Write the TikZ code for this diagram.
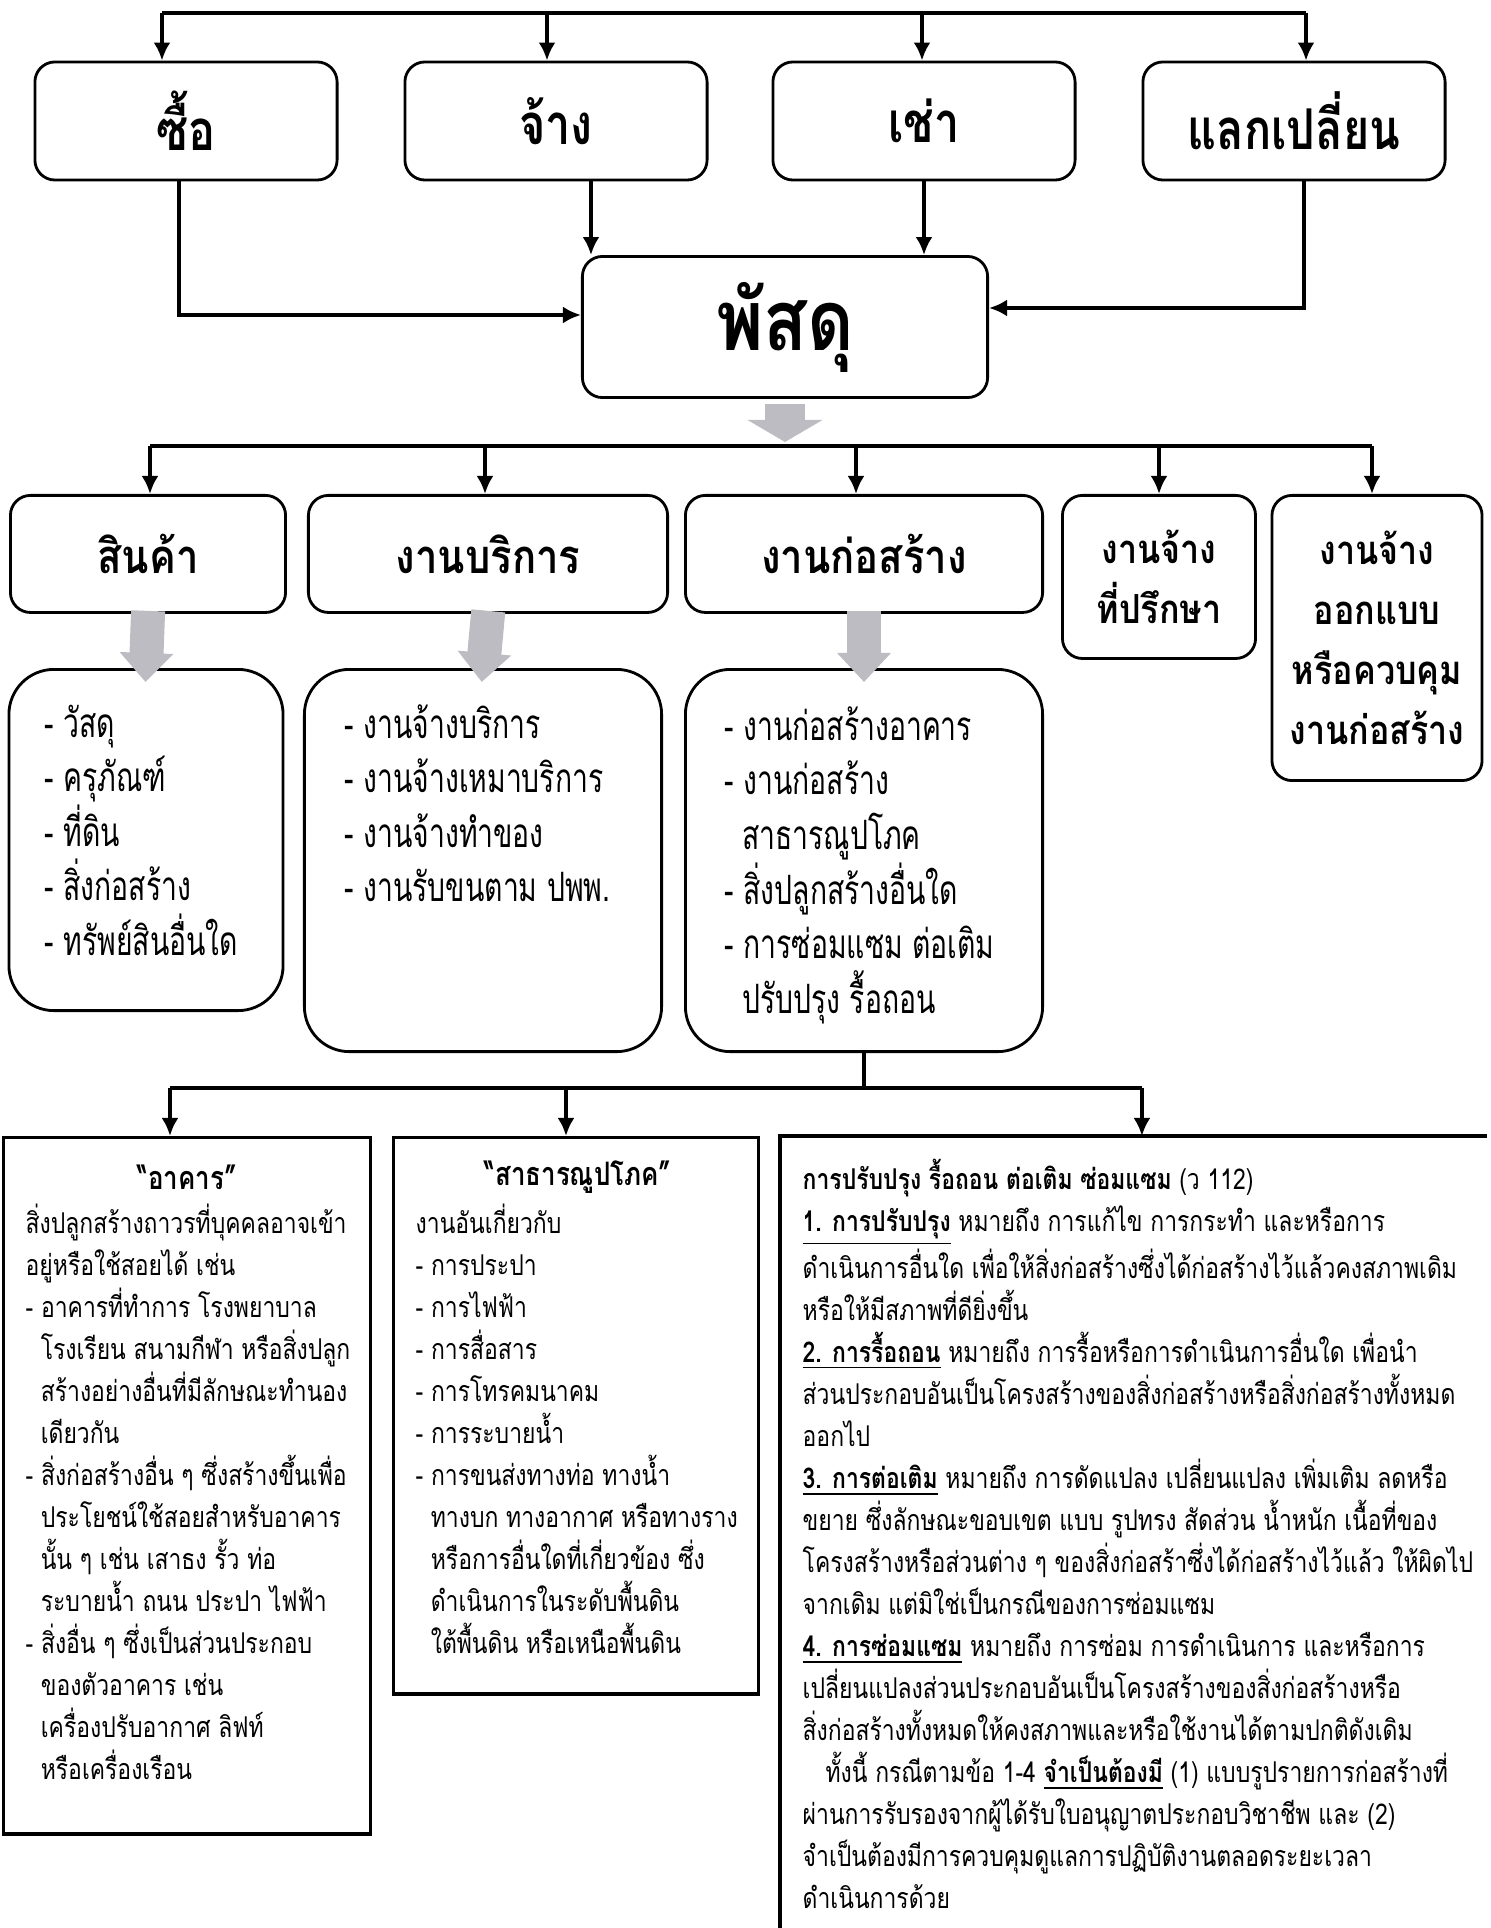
\documentclass[tikz,border=0pt]{standalone}
\usepackage{fontspec}
\usepackage{tikz}
\usetikzlibrary{arrows.meta}
\newfontfamily\thaihead[Script=Thai,FakeStretch=0.85]{Loma}
\newfontfamily\thaitext[Script=Thai,FakeStretch=0.8]{Loma}
\newfontfamily\thainarrow[Script=Thai,FakeStretch=0.7]{Loma}
\definecolor{fatgray}{RGB}{188,188,194}
\newcommand{\ind}{\hspace*{4.3pt}}
\newcommand{\ulb}[1]{\underline{\textbf{#1}}}

\begin{document}
\begin{tikzpicture}[x=0.01cm,y=-0.01cm,
    every node/.style={font=\thaitext},
    headbox/.style={draw,line width=0.8pt,rounded corners=0.2cm,align=center,inner sep=0pt},
    itembox/.style={draw,line width=0.8pt,rounded corners=0.45cm,inner sep=0pt},
    flatbox/.style={draw,line width=0.9pt,inner sep=0pt},
    bigfont/.style={font=\thaitext\bfseries\fontsize{16}{20}\selectfont},
    midfont/.style={font=\thaihead\bfseries\fontsize{13.4}{17}\selectfont},
    smallfont/.style={font=\thaihead\bfseries\fontsize{11.4}{17}\selectfont},
    bus/.style={line width=1.3pt},
    arr/.style={line width=1.3pt,-{Latex[length=1.8mm,width=1.7mm]}},
    fatarr/.style={fatgray,line width=0.34cm,-{Triangle[length=0.29cm,width=0.52cm]}},
    widearr/.style={fatgray,line width=0.40cm,-{Triangle[length=0.22cm,width=0.74cm]}},
    listtext/.style={anchor=north west,align=left,inner sep=0pt,font=\thainarrow\fontsize{11.5}{15.5}\selectfont},
    bodytext/.style={anchor=north west,align=left,inner sep=0pt,font=\thaitext\fontsize{8.15}{11.95}\selectfont},
    boxtitle/.style={font=\thaitext\bfseries\fontsize{9.2}{12}\selectfont}]
  \useasboundingbox (0,0) rectangle (1490,1928);

  \node[headbox,bigfont,minimum width=3.02cm,minimum height=1.18cm] (buy) at (186,121) {ซื้อ};
  \node[headbox,bigfont,minimum width=3.02cm,minimum height=1.18cm] (hire) at (556,121) {จ้าง};
  \node[headbox,bigfont,minimum width=3.02cm,minimum height=1.18cm] (rent) at (924,121) {เช่า};
  \node[headbox,bigfont,minimum width=3.02cm,minimum height=1.18cm] (swap) at (1294,121) {แลกเปลี่ยน};
  \node[headbox,font=\thaihead\bfseries\fontsize{24}{28}\selectfont,minimum width=4.05cm,minimum height=1.41cm] (pasadu) at (785,327) {พัสดุ};

  \coordinate (bus1) at (0,13);
  \foreach \n/\s in {buy/-0.24,hire/-0.09,rent/-0.02,swap/0.12}
    \coordinate (in\n) at ([xshift=\s cm]\n.north);
  \draw[bus] (inbuy |- bus1) -- (inswap |- bus1);
  \foreach \n in {buy,hire,rent,swap}
    \draw[arr] (in\n |- bus1) -- (in\n);
  \coordinate (outbuy) at ([xshift=-0.07cm]buy.south);
  \coordinate (outswap) at ([xshift=0.1cm]swap.south);
  \coordinate (hiredrop) at ([xshift=0.1cm]pasadu.north west);
  \coordinate (buyin) at ([yshift=0.12cm]pasadu.west);
  \coordinate (swapin) at ([yshift=0.19cm]pasadu.east);
  \draw[arr] (outbuy) |- (buyin);
  \draw[arr] (hiredrop |- hire.south) -- (hiredrop);
  \draw[arr] (rent.south) -- (rent.south |- pasadu.north);
  \draw[arr] (outswap) |- (swapin);

  \node[headbox,midfont,anchor=north,minimum width=2.75cm,minimum height=1.17cm] (goods) at (148,494) {สินค้า};
  \node[headbox,midfont,anchor=north,minimum width=3.59cm,minimum height=1.17cm] (service) at (488,494) {งานบริการ};
  \node[headbox,midfont,anchor=north,minimum width=3.57cm,minimum height=1.17cm] (build) at (864,494) {งานก่อสร้าง};
  \node[headbox,smallfont,anchor=north,minimum width=1.93cm,minimum height=1.63cm] (consult) at (1159,494) {งานจ้าง\\ที่ปรึกษา};
  \node[headbox,smallfont,anchor=north,minimum width=2.10cm,minimum height=2.85cm] (design) at (1377,494) {งานจ้าง\\ออกแบบ\\หรือควบคุม\\งานก่อสร้าง};

  \coordinate (bus2) at (0,446);
  \draw[widearr,shorten <=0.05cm,shorten >=0.04cm] (pasadu.south) -- (pasadu.south |- bus2);
  \foreach \n/\s in {goods/0.02,service/-0.03,build/-0.08,consult/0,design/-0.05}
    \coordinate (in\n) at ([xshift=\s cm]\n.north);
  \draw[bus] (ingoods |- bus2) -- (indesign |- bus2);
  \foreach \n in {goods,service,build,consult,design}
    \draw[arr] (in\n |- bus2) -- (in\n);

  \node[itembox,anchor=north,minimum width=2.74cm,minimum height=3.41cm] (goodsbox) at (146,668) {};
  \node[itembox,anchor=north,minimum width=3.57cm,minimum height=3.82cm] (servicebox) at (483,668) {};
  \node[itembox,anchor=north,minimum width=3.57cm,minimum height=3.82cm] (buildbox) at (864,668) {};
  \foreach \a/\b in {goods/goodsbox,service/servicebox,build/buildbox}
    \draw[fatarr,shorten <=-0.03cm,shorten >=-0.14cm] (\a.south) -- (\b.north);

  \node[listtext] (goodslist) at (44,704) {- วัสดุ\\- ครุภัณฑ์\\- ที่ดิน\\- สิ่งก่อสร้าง\\- ทรัพย์สินอื่นใด};
  \node[listtext] (servicelist) at (344,704) {- งานจ้างบริการ\\- งานจ้างเหมาบริการ\\- งานจ้างทำของ\\- งานรับขนตาม ปพพ.};
  \node[listtext] (buildlist) at (724,706) {- งานก่อสร้างอาคาร\\- งานก่อสร้าง\\\hspace*{5pt}สาธารณูปโภค\\- สิ่งปลูกสร้างอื่นใด\\- การซ่อมแซม ต่อเติม\\\hspace*{5pt}ปรับปรุง รื้อถอน};

  \node[flatbox,anchor=north,minimum width=3.66cm,minimum height=6.96cm] (bldg) at (187,1136) {};
  \node[flatbox,anchor=north,minimum width=3.65cm,minimum height=5.56cm] (util) at (576,1136) {};
  \node[anchor=north west,minimum width=7.05cm,minimum height=7.92cm,inner sep=0pt] (reno) at (780,1136) {};
  \draw[line width=0.9pt] (reno.north east) -- (reno.north west) -- (reno.south west);

  \coordinate (bus3) at (0,1088);
  \foreach \n/\s in {bldg/-0.17,util/-0.10,reno/0.085}
    \coordinate (in\n) at ([xshift=\s cm]\n.north);
  \draw[bus] (buildbox.south) -- (buildbox.south |- bus3);
  \draw[bus] (inbldg |- bus3) -- (inreno |- bus3);
  \foreach \n in {bldg,util,reno}
    \draw[arr] (in\n |- bus3) -- (in\n);

  \node[boxtitle] (bldgtitle) at (187,1177) {“อาคาร”};
  \node[bodytext] (bldgtext) at (25,1203) {สิ่งปลูกสร้างถาวรที่บุคคลอาจเข้า\\อยู่หรือใช้สอยได้ เช่น\\- อาคารที่ทำการ โรงพยาบาล\\\ind โรงเรียน สนามกีฬา หรือสิ่งปลูก\\\ind สร้างอย่างอื่นที่มีลักษณะทำนอง\\\ind เดียวกัน\\- สิ่งก่อสร้างอื่น ๆ ซึ่งสร้างขึ้นเพื่อ\\\ind ประโยชน์ใช้สอยสำหรับอาคาร\\\ind นั้น ๆ เช่น เสาธง รั้ว ท่อ\\\ind ระบายน้ำ ถนน ประปา ไฟฟ้า\\- สิ่งอื่น ๆ ซึ่งเป็นส่วนประกอบ\\\ind ของตัวอาคาร เช่น\\\ind เครื่องปรับอากาศ ลิฟท์\\\ind หรือเครื่องเรือน};

  \node[boxtitle] (utiltitle) at (578,1177) {“สาธารณูปโภค”};
  \node[bodytext] (utiltext) at (415,1203) {งานอันเกี่ยวกับ\\- การประปา\\- การไฟฟ้า\\- การสื่อสาร\\- การโทรคมนาคม\\- การระบายน้ำ\\- การขนส่งทางท่อ ทางน้ำ\\\ind ทางบก ทางอากาศ หรือทางราง\\\ind หรือการอื่นใดที่เกี่ยวข้อง ซึ่ง\\\ind ดำเนินการในระดับพื้นดิน\\\ind ใต้พื้นดิน หรือเหนือพื้นดิน};

  \node[bodytext] (renotext) at (802,1158) {\textbf{การปรับปรุง รื้อถอน ต่อเติม ซ่อมแซม} (ว 112)\\
    \ulb{1. การปรับปรุง} หมายถึง การแก้ไข การกระทำ และหรือการ\\
    ดำเนินการอื่นใด เพื่อให้สิ่งก่อสร้างซึ่งได้ก่อสร้างไว้แล้วคงสภาพเดิม\\
    หรือให้มีสภาพที่ดียิ่งขึ้น\\
    \ulb{2. การรื้อถอน} หมายถึง การรื้อหรือการดำเนินการอื่นใด เพื่อนำ\\
    ส่วนประกอบอันเป็นโครงสร้างของสิ่งก่อสร้างหรือสิ่งก่อสร้างทั้งหมด\\
    ออกไป\\
    \ulb{3. การต่อเติม} หมายถึง การดัดแปลง เปลี่ยนแปลง เพิ่มเติม ลดหรือ\\
    ขยาย ซึ่งลักษณะขอบเขต แบบ รูปทรง สัดส่วน น้ำหนัก เนื้อที่ของ\\
    โครงสร้างหรือส่วนต่าง ๆ ของสิ่งก่อสร้าซึ่งได้ก่อสร้างไว้แล้ว ให้ผิดไป\\
    จากเดิม แต่มิใช่เป็นกรณีของการซ่อมแซม\\
    \ulb{4. การซ่อมแซม} หมายถึง การซ่อม การดำเนินการ และหรือการ\\
    เปลี่ยนแปลงส่วนประกอบอันเป็นโครงสร้างของสิ่งก่อสร้างหรือ\\
    สิ่งก่อสร้างทั้งหมดให้คงสภาพและหรือใช้งานได้ตามปกติดังเดิม\\
    \hspace*{6.5pt}ทั้งนี้ กรณีตามข้อ 1-4 \ulb{จำเป็นต้องมี} (1) แบบรูปรายการก่อสร้างที่\\
    ผ่านการรับรองจากผู้ได้รับใบอนุญาตประกอบวิชาชีพ และ (2)\\
    จำเป็นต้องมีการควบคุมดูแลการปฏิบัติงานตลอดระยะเวลา\\
    ดำเนินการด้วย};
\end{tikzpicture}
\end{document}
